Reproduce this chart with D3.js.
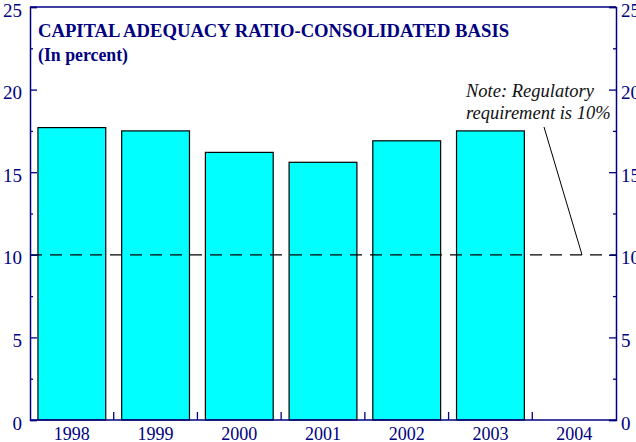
<!DOCTYPE html>
<html><head><meta charset="utf-8">
<script src="https://cdn.jsdelivr.net/npm/d3@7"></script>
<style>body{margin:0;background:#fff}svg{display:block}</style>
</head><body>
<svg id="c" width="636" height="442"></svg>
<script>
const categories = ["1998","1999","2000","2001","2002","2003","2004"];
const values = [17.7, 17.5, 16.2, 15.6, 16.9, 17.5, null];
const yTicks = [0,5,10,15,20,25];
const yMinor = [2.5,7.5,12.5,17.5,22.5];
const requirement = 10;
const titleLines = ["CAPITAL ADEQUACY RATIO-CONSOLIDATED BASIS","(In percent)"];
const noteLines = ["Note: Regulatory","requirement is 10%"];

const navy = "#000080";
const svg = d3.select("#c");
const L = 30, R = 616, T = 7, B = 420;
const x = d3.scaleBand().domain(categories).range([L,R]).paddingInner(0.19).paddingOuter(0.095);
const xb = d3.scaleBand().domain(categories).range([L,R]);
const y = d3.scaleLinear().domain([0,25]).range([B,T]);
const font = "'Liberation Serif','Times New Roman',serif";

// bars
svg.append("g").selectAll("rect").data(categories.map((c,i)=>({c,v:values[i]})).filter(d=>d.v!=null))
  .join("rect")
  .attr("x",d=>x(d.c)).attr("width",x.bandwidth())
  .attr("y",d=>y(d.v)).attr("height",d=>B-y(d.v))
  .attr("fill","#00FFFF").attr("stroke","#000").attr("stroke-width",1.2);

// dashed line
svg.append("line").attr("x1",L).attr("x2",R).attr("y1",y(requirement)).attr("y2",y(requirement))
  .attr("stroke","#000").attr("stroke-width",1.2).attr("stroke-dasharray","12,8");

// frame
svg.append("line").attr("x1",L).attr("x2",R).attr("y1",T).attr("y2",T).attr("stroke",navy).attr("stroke-width",1.5);
svg.append("line").attr("x1",L).attr("x2",R).attr("y1",B).attr("y2",B).attr("stroke",navy).attr("stroke-width",1.5);

// left axis
const la = svg.append("g").attr("transform",`translate(${L},0)`)
  .call(d3.axisRight(y).tickValues(yTicks).tickSize(7).tickFormat(""));
la.select(".domain").attr("stroke",navy).attr("stroke-width",1.5);
la.selectAll("line").attr("stroke",navy).attr("stroke-width",1.3);
svg.append("g").attr("transform",`translate(${L},0)`)
  .call(d3.axisRight(y).tickValues(yMinor).tickSize(3).tickFormat(""))
  .call(g=>{g.select(".domain").remove();g.selectAll("line").attr("stroke",navy).attr("stroke-width",1.3);});
svg.append("g").selectAll("text").data(yTicks).join("text")
  .attr("x",L-8).attr("y",d=>y(d)+3).attr("dy","0.35em").attr("text-anchor","end")
  .attr("font-family",font).attr("font-size",19).attr("fill",navy).text(d=>d);

// right axis
const ra = svg.append("g").attr("transform",`translate(${R},0)`)
  .call(d3.axisLeft(y).tickValues(yTicks).tickSize(7).tickFormat(""));
ra.select(".domain").attr("stroke",navy).attr("stroke-width",1.5);
ra.selectAll("line").attr("stroke",navy).attr("stroke-width",1.3);
svg.append("g").attr("transform",`translate(${R},0)`)
  .call(d3.axisLeft(y).tickValues(yMinor).tickSize(3).tickFormat(""))
  .call(g=>{g.select(".domain").remove();g.selectAll("line").attr("stroke",navy).attr("stroke-width",1.3);});
svg.append("g").selectAll("text").data(yTicks).join("text")
  .attr("x",R+5).attr("y",d=>y(d)+3).attr("dy","0.35em").attr("text-anchor","start")
  .attr("font-family",font).attr("font-size",19).attr("fill",navy).text(d=>d);

// x axis ticks between bands
svg.append("g").selectAll("line").data(categories.slice(1)).join("line")
  .attr("x1",d=>xb(d)).attr("x2",d=>xb(d)).attr("y1",B).attr("y2",B-8)
  .attr("stroke",navy).attr("stroke-width",1.3);
svg.append("g").selectAll("text").data(categories).join("text")
  .attr("x",d=>xb(d)+xb.bandwidth()/2).attr("y",440).attr("text-anchor","middle")
  .attr("font-family",font).attr("font-size",18).attr("fill",navy).text(d=>d);

// title
svg.append("text").attr("x",38).attr("y",37).attr("font-family",font).attr("font-weight","bold")
  .attr("font-size",19.5).attr("fill",navy).attr("textLength",471).attr("lengthAdjust","spacingAndGlyphs").text(titleLines[0]);
svg.append("text").attr("x",38).attr("y",61).attr("font-family",font).attr("font-weight","bold")
  .attr("font-size",19.5).attr("fill",navy).attr("textLength",90).attr("lengthAdjust","spacingAndGlyphs").text(titleLines[1]);

// note
svg.append("g").selectAll("text").data(noteLines).join("text")
  .attr("x",466).attr("y",(d,i)=>97+i*22).attr("text-anchor","start")
  .attr("font-family",font).attr("font-style","italic").attr("font-size",18.5).attr("fill","#111").text(d=>d);
svg.append("line").attr("x1",544).attr("y1",127).attr("x2",582).attr("y2",y(requirement))
  .attr("stroke","#000").attr("stroke-width",1);
</script>
</body></html>
